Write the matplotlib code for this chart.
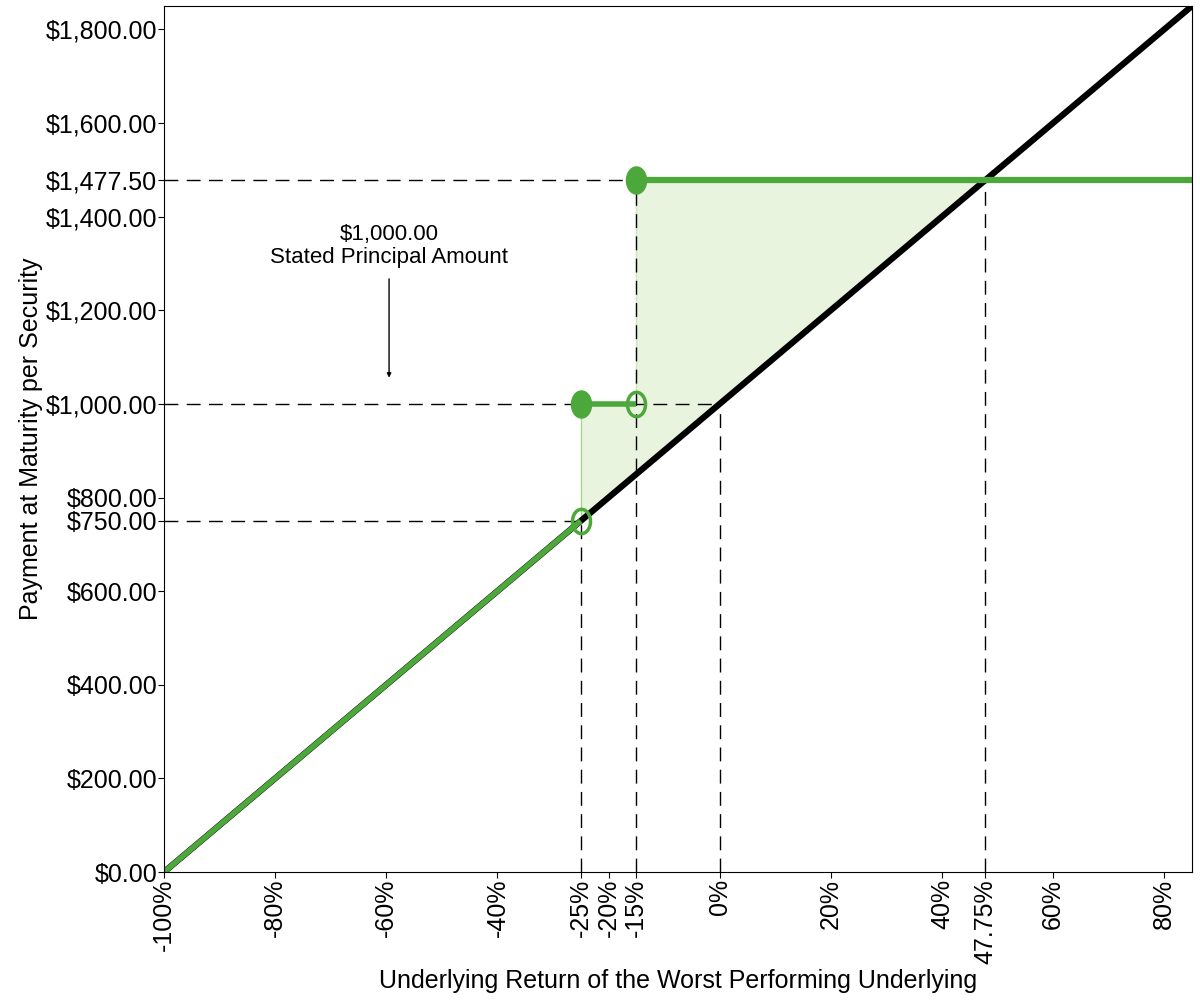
import numpy as np
import matplotlib.pyplot as plt
from matplotlib.path import Path

plt.rcParams['font.family'] = ['Liberation Sans', 'DejaVu Sans']

# underlying return (%) and payments
underlying_x = [-100, 85]
underlying_y = [0, 1850]
low_x = [-100, -25]
low_y = [0, 750]
mid_x = [-25, -15]
mid_y = [1000, 1000]
high_x = [-15, 85]
high_y = [1477.5, 1477.5]

xticks = [-100, -80, -60, -40, -25, -20, -15, 0, 20, 40, 47.75, 60, 80]
xtick_labels = ['-100%', '-80%', '-60%', '-40%', '-25%', '-20%', '-15%', '0%',
                '20%', '40%', '47.75%', '60%', '80%']
yticks = [0, 200, 400, 600, 750, 800, 1000, 1200, 1400, 1477.5, 1600, 1800]

green = '#4ca83a'
light = '#e9f4de'

t = np.linspace(0, 2 * np.pi, 60)
ell = Path(np.column_stack([np.cos(t), 1.35 * np.sin(t)]), closed=True)

fig = plt.figure(figsize=(12, 10), dpi=100)
ax = fig.add_axes([0.1367, 0.128, 0.8566, 0.866])

# shaded area between payment and underlying
ax.fill_between([-25, -15], [750, 850], [1000, 1000], color=light, lw=0)
ax.fill_between([-15, 47.75], [850, 1477.5], [1477.5, 1477.5], color=light, lw=0)
ax.plot([-25, -25], [750, 1000], color='#a6d68f', lw=1)
ax.plot([-15, -15], [1000, 1477.5], color='#cfe7c0', lw=1)

dash = dict(color='black', lw=1, dashes=(10, 6))
ax.plot([-100, 47.75], [1477.5, 1477.5], **dash)
ax.plot([47.75, 47.75], [0, 1477.5], **dash)
ax.plot([-15, -15], [0, 1477.5], **dash)
ax.plot([-100, 0], [1000, 1000], **dash)
ax.plot([0, 0], [0, 1000], **dash)
ax.plot([-100, -25], [750, 750], **dash)
ax.plot([-25, -25], [0, 750], **dash)

ax.plot(underlying_x, underlying_y, color='black', lw=4.5, solid_capstyle='butt')
ax.plot(low_x, low_y, color=green, lw=4, solid_capstyle='butt')
ax.plot(mid_x, mid_y, color=green, lw=4, solid_capstyle='butt')
ax.plot(high_x, high_y, color=green, lw=4.5, solid_capstyle='butt')

ax.plot([-25, -15], [1000, 1477.5], ls='none', marker=ell, ms=19.5,
        color=green, zorder=5)
ax.plot([-25, -15], [750, 1000], ls='none', marker=ell, ms=17.5,
        mfc='none', mec=green, mew=2.5, zorder=5)

ax.annotate('', xy=(-59.5, 1050), xytext=(-59.5, 1273),
            arrowprops=dict(arrowstyle='-|>', color='black', lw=1,
                            mutation_scale=6))
ax.text(-59.5, 1290, '$1,000.00\nStated Principal Amount', ha='center',
        va='bottom', fontsize=16, linespacing=1.15)

ax.set_xlim(-100, 85)
ax.set_ylim(0, 1850)
ax.set_xticks(xticks)
ax.set_xticklabels(xtick_labels, rotation=90, fontsize=18)
ax.set_yticks(yticks)
ax.set_yticklabels(['${:,.2f}'.format(v) for v in yticks], fontsize=18)
ax.tick_params(length=4, width=0.8, pad=1)
ax.set_xlabel('Underlying Return of the Worst Performing Underlying',
              fontsize=18, labelpad=4)
ax.set_ylabel('Payment at Maturity per Security', fontsize=18, labelpad=2)

fig.savefig('out.png', dpi=100)
